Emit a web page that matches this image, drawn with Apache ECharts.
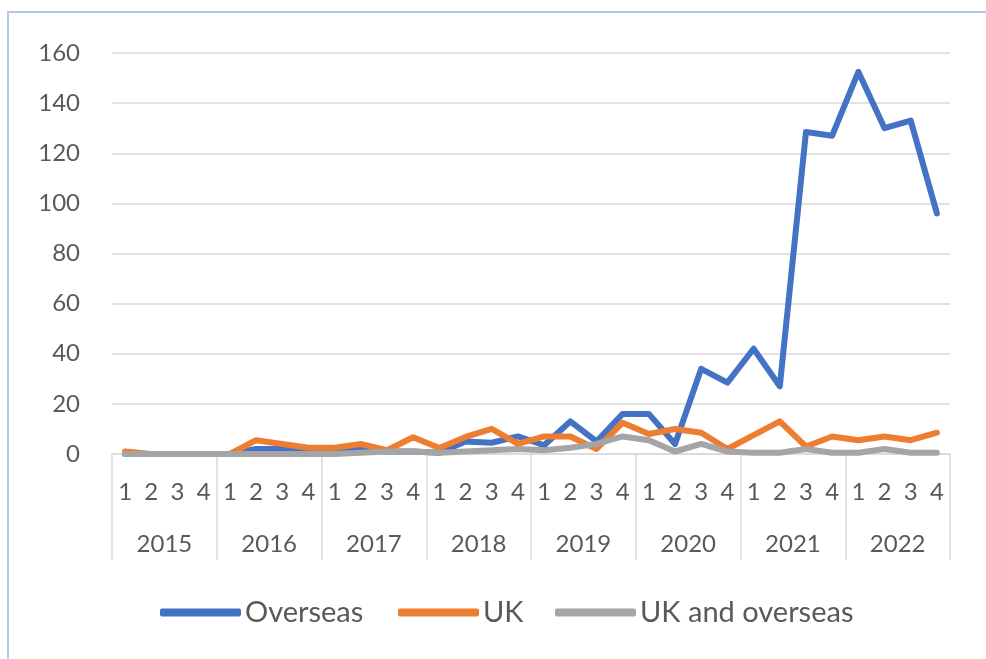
<!DOCTYPE html>
<html>
<head>
<meta charset="utf-8">
<script src="https://cdn.jsdelivr.net/npm/echarts@6/dist/echarts.min.js"></script>
<style>
  html, body { margin: 0; padding: 0; background: #ffffff; }
  #frame { position: absolute; left: 7px; top: 11px; width: 1100px; height: 800px; border: 2px solid #b4c7e7; box-sizing: border-box; }
  #chart { position: absolute; left: 0; top: 0; width: 986px; height: 659px; }
</style>
</head>
<body>
<div id="frame"></div>
<div id="chart"></div>
<script>
const years = ['2015', '2016', '2017', '2018', '2019', '2020', '2021', '2022'];
const quarters = ['1', '2', '3', '4'];
const yTicks = { min: 0, max: 160, interval: 20 };

const overseas = [
  0, 0, 0, 0,
  0, 2, 2, 1,
  1, 2, 1, 1,
  0.5, 5, 4.5, 7,
  3.5, 13, 5, 16,
  16, 4, 34, 28.5,
  42, 27, 128.5, 127,
  152.5, 130, 133, 96
];
const uk = [
  1, 0, 0, 0,
  0, 5.5, 4, 2.5,
  2.5, 4, 1.5, 6.7,
  2.4, 6.8, 10, 4,
  7, 7, 2, 12.5,
  8, 10, 8.5, 2,
  7.5, 13, 3, 7,
  5.5, 7, 5.5, 8.5
];
const ukAndOverseas = [
  0, 0, 0, 0,
  0, 0, 0, 0,
  0, 0.5, 1, 1,
  0.5, 1, 1.5, 2,
  1.5, 2.5, 4, 7,
  5.5, 1, 4, 1,
  0.5, 0.5, 2, 0.5,
  0.5, 2, 0.5, 0.5
];
const seriesNames = ['Overseas', 'UK', 'UK and overseas'];
const seriesColors = ['#4472c4', '#ed7d31', '#a5a5a5'];

const quarterCats = [];
years.forEach(y => quarters.forEach(q => quarterCats.push(y + '-' + q)));

const FONT = 'Lato, sans-serif';
const TXT = '#595959';
const GRID = '#d9d9d9';

const chart = echarts.init(document.getElementById('chart'), null, { renderer: 'canvas' });
const mk = (name, data, color) => ({
  name, type: 'line', data, symbol: 'none', xAxisIndex: 0, yAxisIndex: 0,
  lineStyle: { width: 6, color, cap: 'round', join: 'round' },
  itemStyle: { color },
  emphasis: { disabled: true },
  animation: false
});
const legendAt = (name, left) => ({
  left, top: 598, orient: 'horizontal', padding: 0,
  icon: 'roundRect', itemWidth: 81, itemHeight: 8,
  textStyle: { fontFamily: FONT, fontSize: 29, color: TXT, padding: [0, 0, 0, -1] },
  data: [name]
});

chart.setOption({
  animation: false,
  textStyle: { fontFamily: FONT },
  grid: { left: 112, right: 36, top: 53, bottom: 205 },
  legend: [
    legendAt(seriesNames[0], 160),
    legendAt(seriesNames[1], 398),
    legendAt(seriesNames[2], 555)
  ],
  xAxis: [
    {
      type: 'category', data: quarterCats, boundaryGap: true,
      axisLine: { show: true, lineStyle: { color: GRID, width: 1.5 } },
      axisTick: { show: false },
      axisLabel: {
        interval: 0, margin: 26, fontFamily: FONT, fontSize: 24, color: TXT,
        formatter: v => v.split('-')[1]
      },
      splitLine: { show: false }
    },
    {
      type: 'category', data: years, boundaryGap: true, position: 'bottom',
      axisLine: { show: false },
      axisTick: { show: true, interval: 0, length: 106, lineStyle: { color: GRID, width: 1.5 } },
      axisLabel: { interval: 0, margin: 78, fontFamily: FONT, fontSize: 24, color: TXT },
      splitLine: { show: false }
    }
  ],
  yAxis: {
    type: 'value', min: yTicks.min, max: yTicks.max, interval: yTicks.interval,
    axisLine: { show: false }, axisTick: { show: false },
    axisLabel: { margin: 32, fontFamily: FONT, fontSize: 24, color: TXT },
    splitLine: { lineStyle: { color: GRID, width: 1.5 } }
  },
  series: [
    mk(seriesNames[0], overseas, seriesColors[0]),
    mk(seriesNames[1], uk, seriesColors[1]),
    mk(seriesNames[2], ukAndOverseas, seriesColors[2])
  ]
});
</script>
</body>
</html>
